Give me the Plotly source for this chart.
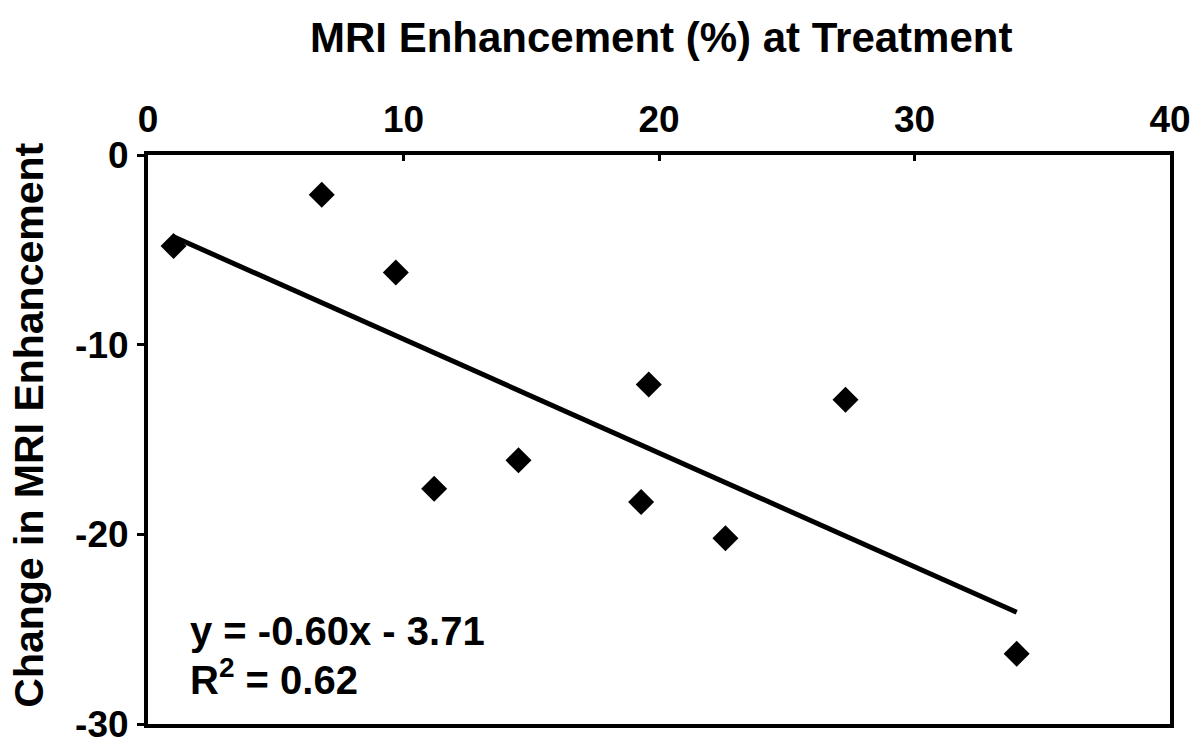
import plotly.graph_objects as go

# Data
mri_at_treatment = [1.0, 6.8, 9.7, 11.2, 14.5, 19.6, 19.3, 22.6, 27.3, 34.0]
change_in_mri = [-4.8, -2.1, -6.2, -17.6, -16.1, -12.1, -18.3, -20.2, -12.9, -26.3]
slope = -0.60
intercept = -3.71
r_squared = 0.62
x_ticks = [0, 10, 20, 30, 40]
y_ticks = [0, -10, -20, -30]
y_tick_labels = ["0", "-10", "-20", "-30"]

FONT = "Liberation Sans, Arial, sans-serif"

x_min, x_max = min(mri_at_treatment), max(mri_at_treatment)
trend_x = [x_min, x_max]
trend_y = [slope * v + intercept for v in trend_x]

fig = go.Figure()
fig.add_trace(go.Scatter(
    x=mri_at_treatment, y=change_in_mri, mode="markers",
    marker=dict(symbol="diamond", size=20, color="black", line=dict(width=0)),
    showlegend=False))
fig.add_trace(go.Scatter(
    x=trend_x, y=trend_y, mode="lines",
    line=dict(color="black", width=5), showlegend=False))

# The page body adds an 8px margin, so the figure is sized 8px smaller
fig.update_layout(
    width=1192, height=737,
    margin=dict(l=140, r=30, t=147, b=21),
    paper_bgcolor="white", plot_bgcolor="white",
    font=dict(family=FONT, color="black"),
    xaxis=dict(range=[0, 40], side="top", tickvals=x_ticks, automargin=False,
               ticks="inside", ticklen=6, tickwidth=3, tickcolor="black",
               ticklabelstandoff=4,
               showline=True, linewidth=4, linecolor="black", mirror=True,
               showgrid=False, zeroline=False,
               tickfont=dict(family=FONT, size=37, color="black", weight="bold")),
    yaxis=dict(range=[-30, 0], tickvals=y_ticks, ticktext=y_tick_labels, automargin=False,
               ticks="outside", ticklen=7, tickwidth=3, tickcolor="black",
               ticklabelstandoff=1,
               showline=True, linewidth=4, linecolor="black", mirror=True,
               showgrid=False, zeroline=False,
               tickfont=dict(family=FONT, size=37, color="black", weight="bold")),
)

ann_font = dict(family=FONT, size=40, color="black", weight="bold")
fig.add_annotation(text="MRI Enhancement (%) at Treatment", xref="paper", yref="paper",
                   x=0.502, y=1.207, xanchor="center", yanchor="middle",
                   showarrow=False, font=dict(family=FONT, size=42, color="black", weight="bold"))
fig.add_annotation(text="Change in MRI Enhancement", xref="paper", yref="paper",
                   x=-0.116, y=0.525, xanchor="center", yanchor="middle",
                   textangle=-90, showarrow=False,
                   font=dict(family=FONT, size=41, color="black", weight="bold"))
fig.add_annotation(text=f"y = {slope:.2f}x - {abs(intercept):.2f}", xref="paper", yref="paper",
                   x=0.039, y=0.163, xanchor="left", yanchor="middle",
                   showarrow=False, font=ann_font)
fig.add_annotation(text=f"R<sup>2</sup> = {r_squared:.2f}", xref="paper", yref="paper",
                   x=0.039, y=0.083, xanchor="left", yanchor="middle",
                   showarrow=False, font=ann_font)

fig.write_html("out.html")
